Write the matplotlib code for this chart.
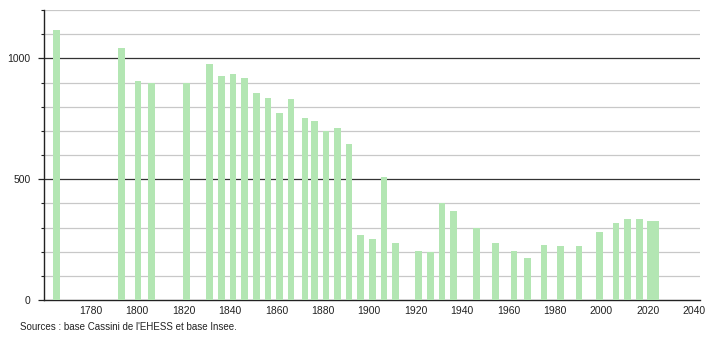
import matplotlib.pyplot as plt
from matplotlib.ticker import MultipleLocator

plt.rcParams['font.family'] = ['Liberation Sans', 'DejaVu Sans']

# census years and population
years = [1765, 1793, 1800, 1806, 1821, 1831, 1836, 1841, 1846, 1851,
         1856, 1861, 1866, 1872, 1876, 1881, 1886, 1891, 1896, 1901,
         1906, 1911, 1921, 1926, 1931, 1936, 1946, 1954, 1962, 1968,
         1975, 1982, 1990, 1999, 2006, 2011, 2016, 2021, 2023]
population = [1118, 1044, 906, 899, 898, 976, 926, 934, 918, 855,
              836, 773, 833, 753, 740, 701, 711, 644, 270, 254,
              511, 236, 204, 198, 403, 369, 300, 237, 204, 172,
              227, 225, 225, 283, 320, 337, 337, 326, 326]
xticks = list(range(1780, 2041, 20))
yticks = [0, 500, 1000]
source = "Sources : base Cassini de l'EHESS et base Insee."

fig = plt.figure(figsize=(7.1, 3.4), dpi=100)
ax = fig.add_axes([0.0625, 0.1176, 0.9235, 0.853])

ax.bar([y + 0.3 for y in years], population, width=2.9, color='#b3e6b3', zorder=3)

ax.set_xlim(1760, 2042.5)
ax.set_ylim(0, 1200)

# grid: light every 100, dark at 500 / 1000
for v in range(100, 1201, 100):
    if v % 500 == 0:
        ax.axhline(v, color='#333333', lw=0.9, zorder=1)
    else:
        ax.axhline(v, color='#c8c8c8', lw=0.9, zorder=1)

ax.set_xticks(xticks)
ax.set_yticks(yticks)
ax.yaxis.set_minor_locator(MultipleLocator(100))
ax.tick_params(axis='x', length=0, pad=4, labelsize=7.5, colors='#222222')
ax.tick_params(axis='y', which='major', length=4, width=0.9, pad=6,
               labelsize=7.5, colors='#222222')
ax.tick_params(axis='y', which='minor', length=2, width=0.8, color='#222222')

for s in ['top', 'right']:
    ax.spines[s].set_visible(False)
ax.spines['left'].set_color('#222222')
ax.spines['bottom'].set_color('#222222')
ax.spines['left'].set_linewidth(1.0)
ax.spines['bottom'].set_linewidth(1.0)

fig.text(20 / 710, 1 - 327 / 340, source, fontsize=7, color='#222222',
         va='center', ha='left')

fig.savefig('out.png', dpi=100)
